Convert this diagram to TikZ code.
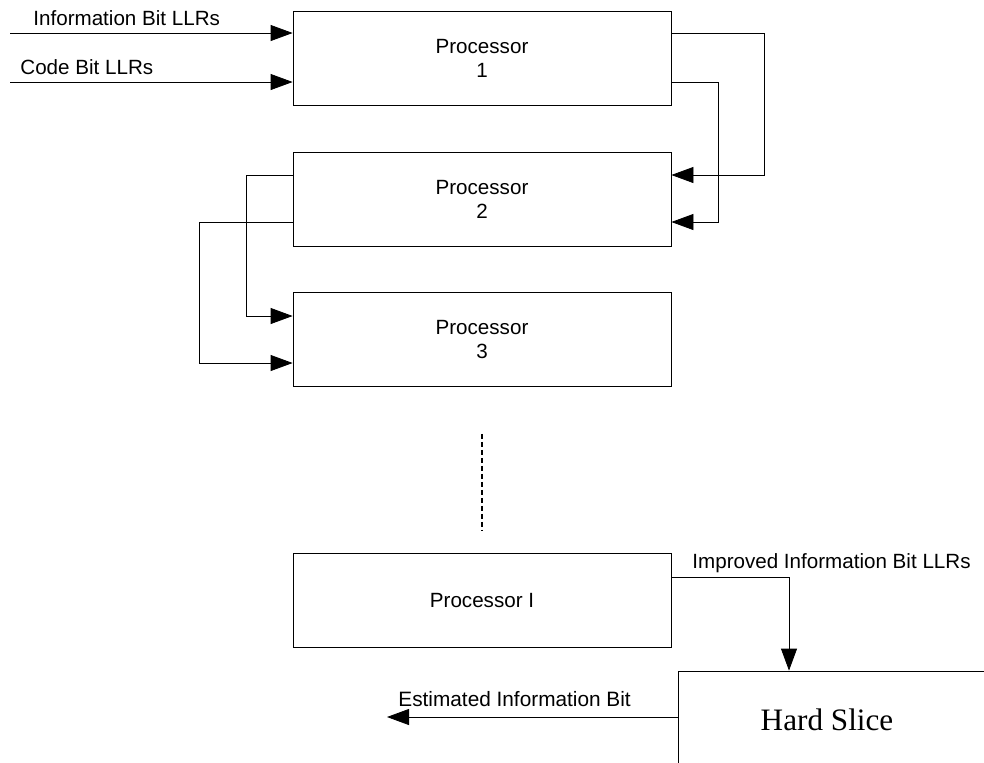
\documentclass[tikz,border=0pt]{standalone}
\usepackage{fontspec}
\setmainfont{Liberation Sans}
\newfontfamily\slicefont{Liberation Serif}
\usetikzlibrary{arrows.meta}

\begin{document}
\begin{tikzpicture}
  [x=.5pt, y=-.5pt, font=\fontsize{10.3}{12}\selectfont,
   proc/.style={rectangle, draw=black, thin, minimum width=189pt, minimum height=47pt, align=center, inner sep=0pt},
   link/.style={thin, draw=black, -{Triangle[length=11pt, width=8pt]}},
   lbl/.style={anchor=base west, inner sep=0pt}]

  \useasboundingbox (0,0) rectangle (984,762);
  \clip (0,0) rectangle (984,762);

  % Procesadores
  \node[proc] (proc1) at (482,58)    {Processor\\1};
  \node[proc] (proc2) at (482,199)   {Processor\\2};
  \node[proc] (proc3) at (482,339.5) {Processor\\3};
  \node[proc] (procI) at (482,600.5) {Processor I};

  % Hard slice (cortado por el borde)
  \node[rectangle, draw=black, thin, minimum width=230pt, minimum height=65pt] (slice) at (908,736) {};
  \node[font=\slicefont\fontsize{15.6}{18}\selectfont] (slicetxt) at (827,720) {Hard Slice};

  % Entradas
  \coordinate (in1) at (10,33);
  \coordinate (in2) at (10,82);
  \draw[link] (in1) -- (in1 -| proc1.west);
  \draw[link] (in2) -- (in2 -| proc1.west);
  \node[lbl] (lblinfo) at (33,25) {Information Bit LLRs};
  \node[lbl] (lblcode) at (20,74) {Code Bit LLRs};

  % Realimentacion 1 -> 2
  \draw[link] (proc1.east |- in1) -| (764,175) -- (proc2.east |- 0,175);
  \draw[link] (proc1.east |- in2) -| (718,222) -- (proc2.east |- 0,222);

  % 2 -> 3
  \draw[link] (proc2.west |- 0,175) -| (246,316) -- (proc3.west |- 0,316);
  \draw[link] (proc2.west |- 0,222) -| (199,363) -- (proc3.west |- 0,363);

  % Puntos suspensivos
  \draw[semithick, dash pattern=on 2.5pt off 1.5pt] ([yshift=-23.5pt]proc3.south) -- ([yshift=11pt]procI.north);

  % Salidas
  \draw[link] (procI.east |- 0,577) -| (slice.north -| 789,0);
  \node[lbl] (lblimpr) at (692,568) {Improved Information Bit LLRs};
  \draw[link] (slice.west |- 0,717) -- (387,717);
  \node[lbl, font=\fontsize{10.4}{12}\selectfont] (lblest) at (398,706) {Estimated Information Bit};
\end{tikzpicture}
\end{document}
